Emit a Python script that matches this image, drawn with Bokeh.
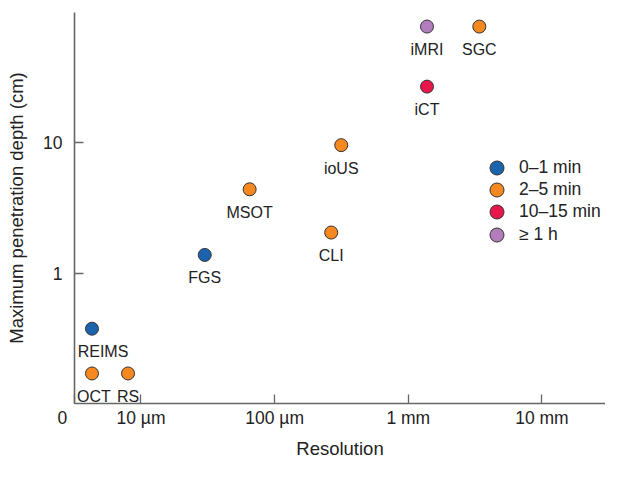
import numpy as np
from bokeh.plotting import figure
from bokeh.models import ColumnDataSource, FixedTicker, Legend, LegendItem, Range1d
from bokeh.core.properties import value
from bokeh.embed import file_html
from bokeh.resources import INLINE

# ---- data ----
names = ["REIMS", "OCT", "RS", "FGS", "MSOT", "CLI", "ioUS", "iCT", "iMRI", "SGC"]
resolution_um = [4.3, 4.3, 8.0, 30, 65, 265, 315, 1380, 1380, 3400]
depth_cm = [0.375, 0.17, 0.17, 1.38, 4.4, 2.05, 9.6, 27, 78, 78]
time_group = ["0–1 min", "2–5 min", "2–5 min", "0–1 min", "2–5 min",
              "2–5 min", "2–5 min", "10–15 min", "≥ 1 h", "2–5 min"]
groups = ["0–1 min", "2–5 min", "10–15 min", "≥ 1 h"]
group_colors = ["#1c63ae", "#f5891f", "#e8174b", "#b27cbd"]
x_ticks = [10, 100, 1000, 10000]
x_tick_labels = ["10 µm", "100 µm", "1 mm", "10 mm"]
y_ticks = [1, 10]
y_tick_labels = ["1", "10"]

# label horizontal nudges (style only, px)
label_dx = [11, 2, 0, 0, 0, 0, 0, 0, 0, 0]

FONT = "Liberation Sans"
TXT = "#222222"
AX = "#666666"

x_lo, x_hi = 10 ** 0.5026, 10 ** 4.4755
p = figure(width=605, height=461, x_axis_type="log", y_axis_type="log",
           x_range=Range1d(x_lo, x_hi), y_range=Range1d(0.1, 100),
           output_backend="svg", toolbar_location=None,
           min_border_left=74, min_border_right=0, min_border_top=12,
           min_border_bottom=55)
p.outline_line_color = None
p.grid.visible = False
p.background_fill_color = "white"

for ax in (p.xaxis[0], p.yaxis[0]):
    ax.axis_line_color = AX
    ax.axis_line_width = 1.6
    ax.major_tick_line_color = AX
    ax.major_tick_line_width = 1.3
    ax.major_tick_in = 9
    ax.major_tick_out = 0
    ax.minor_tick_line_color = None
    ax.major_label_text_font = FONT
    ax.major_label_text_font_size = "17.5px"
    ax.major_label_text_color = TXT
    ax.axis_label_text_font = FONT
    ax.axis_label_text_font_size = "18.5px"
    ax.axis_label_text_font_style = "normal"
    ax.axis_label_text_color = TXT

# "0" at the origin of the resolution axis
zero_tick = x_lo * 1.0005
p.xaxis.ticker = FixedTicker(ticks=[zero_tick] + x_ticks)
overrides = dict(zip(x_ticks, x_tick_labels))
overrides[zero_tick] = "0" + "\u00a0" * 5
p.xaxis.major_label_overrides = overrides
p.yaxis.ticker = FixedTicker(ticks=y_ticks)
p.yaxis.major_label_overrides = dict(zip(y_ticks, y_tick_labels))
p.xaxis.axis_label = "Resolution"
p.yaxis.axis_label = "Maximum penetration depth (cm)"
p.xaxis.major_label_standoff = 4
p.xaxis.axis_label_standoff = 7
p.yaxis.major_label_standoff = 12
p.yaxis.axis_label_standoff = 13

renderers = []
for g, c in zip(groups, group_colors):
    idx = [i for i, t in enumerate(time_group) if t == g]
    src = ColumnDataSource(dict(x=[resolution_um[i] for i in idx],
                                y=[depth_cm[i] for i in idx]))
    r = p.scatter("x", "y", source=src, size=13, fill_color=c,
                  line_color="#333333", line_width=1)
    renderers.append(r)

lab_src = ColumnDataSource(dict(x=resolution_um, y=depth_cm, t=names, dx=label_dx))
p.text("x", "y", text="t", source=lab_src, text_align="center",
       text_baseline="middle", x_offset="dx", y_offset=23, text_font=value(FONT),
       text_font_size="16px", text_color=TXT)

# one single-item legend per row so that the row pitch can be tighter than the glyph box
legend_rows_bottom = [218, 196, 174, 151]
for g, r, yb in zip(groups, renderers, legend_rows_bottom):
    lg = Legend(items=[LegendItem(label=g, renderers=[r])], location=(405, yb),
                glyph_width=35, glyph_height=35, spacing=0, padding=0, margin=0,
                label_standoff=5, label_text_font=FONT, label_text_font_size="17.5px",
                label_text_color=TXT, border_line_color=None,
                background_fill_alpha=0)
    p.add_layout(lg)

open("out.html", "w").write(file_html(p, INLINE))
